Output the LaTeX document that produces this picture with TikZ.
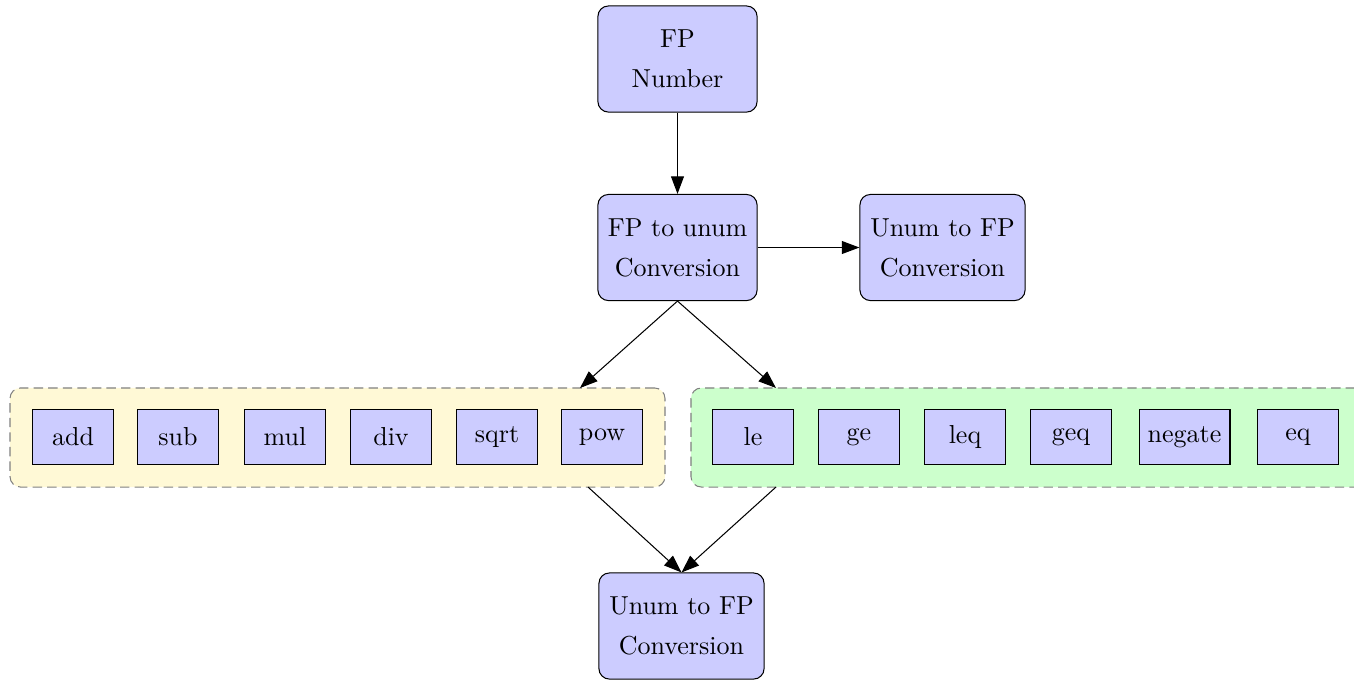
\documentclass[tikz,border=0pt]{standalone}
\usetikzlibrary{arrows.meta}
\definecolor{boxblue}{RGB}{204,204,255}
\definecolor{grpyellow}{RGB}{255,249,214}
\definecolor{grpgreen}{RGB}{204,255,204}
\begin{document}
\begin{tikzpicture}[x=0.3846pt,y=-0.3846pt,
  stage/.style={draw,fill=boxblue,rounded corners=4pt,align=center,
    font=\fontsize{10}{15.4}\selectfont,minimum height=40.8pt,inner sep=2pt},
  op/.style={draw,fill=boxblue,minimum width=30.8pt,minimum height=20.8pt,inner sep=3.33pt},
  group/.style={draw=gray,dash pattern=on 3.6pt off 2pt,rounded corners=4pt,minimum height=38.1pt},
  flow/.style={-{Triangle[length=6.8pt,width=5pt]}}]
\useasboundingbox (0,0) rectangle (1354,682);

% pipeline stages
\node[stage,minimum width=61.2pt] (num) at (677.5,59) {FP\\Number};
\node[stage,minimum width=61.2pt] (fpu) at (677.5,247.5) {FP to unum\\Conversion};
\node[stage,minimum width=63.5pt] (ufp) at (942.5,247.5) {Unum to FP\\Conversion};
\node[stage,minimum width=63.5pt] (bot) at (681.5,626) {Unum to FP\\Conversion};

% operation groups (the comparison group runs past the right edge)
\node[group,fill=grpyellow,minimum width=251.9pt] (arith) at (337.5,437.5) {};
\node[group,fill=grpgreen,minimum width=265pt] (cmp) at (1035.5,437.5) {};

% arithmetic operations
\node[op] (add)  at (73,437)  {add};
\node[op] (sub)  at (178,437) {sub};
\node[op] (mul)  at (285,437) {mul};
\node[op] (div)  at (391,437) {div};
\node[op] (sqrt) at (497,437) {sqrt};
\node[op] (pow)  at (602,437) {pow};

% comparison operations
\node[op] (le)     at (753,437)    {le};
\node[op] (ge)     at (859,437)    {ge};
\node[op] (leq)    at (965,437)    {leq};
\node[op] (geq)    at (1071,437)   {geq};
\node[op] (negate) at (1184.5,437) {negate};
\node[op] (eq)     at (1298,437)   {eq};

% connector end points on the group borders
\coordinate (arithin)  at (580,388);
\coordinate (cmpin)    at (776,388);
\coordinate (arithout) at (588,487);
\coordinate (cmpout)   at (776,487);

\draw[flow] (num.south) -- (fpu.north);
\draw[flow] (fpu.east) -- (ufp.west);
\draw[flow] (fpu.south) -- (arithin);
\draw[flow] (fpu.south) -- (cmpin);
\draw[flow] (arithout) -- (bot.north);
\draw[flow] (cmpout) -- (bot.north);
\end{tikzpicture}
\end{document}
